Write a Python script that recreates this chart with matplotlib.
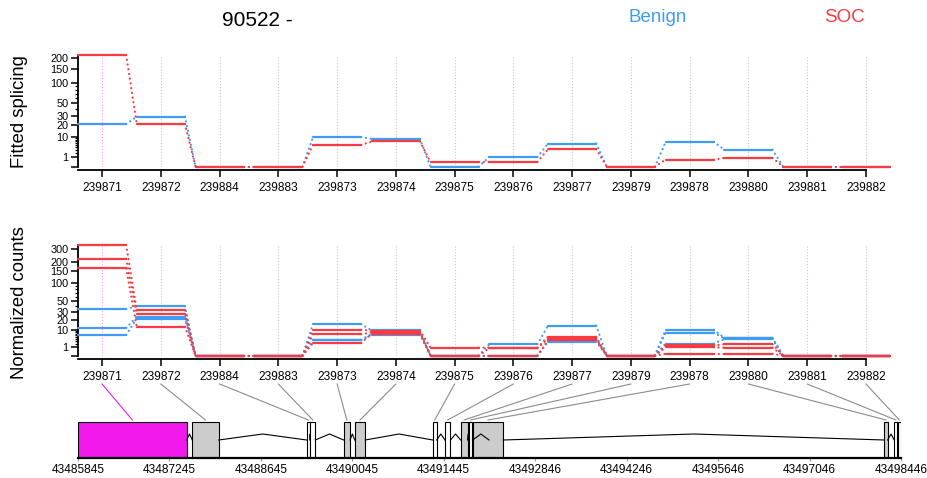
import numpy as np
import matplotlib
matplotlib.use("Agg")
import matplotlib.pyplot as plt
from matplotlib.patches import Rectangle

plt.rcParams['font.family'] = ['Liberation Sans', 'DejaVu Sans']

# ---------------- data ----------------
exon_ids = ["239871", "239872", "239884", "239883", "239873", "239874", "239875",
            "239876", "239877", "239879", "239878", "239880", "239881", "239882"]

fitted_benign = [20.8, 29.4, 0, 0, 9.6, 8.5, 0, 1.0, 5.8, 0, 6.7, 3.1, 0, 0]
fitted_soc = [218, 20.8, 0, 0, 5.1, 6.9, 0.24, 0.24, 3.3, 0, 0.53, 0.81, 0, 0]

counts_benign_1 = [35, 40, 0, 0, 15, 9.5, 0, 1.9, 13.5, 0, 9.9, 4.6, 0, 0]
counts_benign_2 = [11.4, 23.6, 0, 0, 3.7, 7.0, 0, 0, 3.0, 0, 7.8, 4.3, 0, 0]
counts_benign_3 = [6.3, 21.2, 0, 0, 3.4, 6.5, 0, 0, 2.8, 0, 2.1, 4.0, 0, 0]

counts_soc_1 = [335, 33, 0, 0, 10, 9.2, 0.92, 0.95, 5.2, 0, 1.5, 1.9, 0, 0]
counts_soc_2 = [221, 27, 0, 0, 6.7, 8.0, 0, 0.8, 4.2, 0, 1.0, 0.92, 0, 0]
counts_soc_3 = [164, 12.5, 0, 0, 2.3, 7.2, 0, 0, 3.6, 0, 0.05, 0.05, 0, 0]

fitted_ticks = [0, 1, 10, 20, 30, 50, 100, 150, 200]
fitted_tick_labels = ["", "1", "10", "20", "30", "50", "100", "150", "200"]
counts_ticks = [0, 1, 10, 20, 30, 50, 100, 150, 200, 300]
counts_tick_labels = ["", "1", "10", "20", "30", "50", "100", "150", "200", "300"]
minor_ticks = [2, 3, 4, 5, 6, 7, 8, 9, 40, 60, 70, 80, 90]

genomic_ticks = [43485845, 43487245, 43488645, 43490045, 43491445,
                 43492846, 43494246, 43495646, 43497046, 43498446]
exon_start = [43485845, 43487595, 43489347, 43489402, 43489913, 43490082, 43491276,
              43491464, 43491704, 43491827, 43491888, 43498190, 43498343, 43498396]
exon_end = [43487509, 43488000, 43489397, 43489478, 43490010, 43490244, 43491337,
            43491548, 43491809, 43491885, 43492357, 43498242, 43498392, 43498446]
exon_fill = ["pink", "gray", "white", "white", "gray", "gray", "white",
             "white", "gray", "white", "gray", "gray", "white", "white"]
extra_introns = [(43491888, 43492138)]

title = "90522 -"
groups = ["Benign", "SOC"]

BLUE = '#3E9BF6'
RED = '#F93A40'
PINK = '#F219ED'
FILL = {"pink": PINK, "gray": "#CCCCCC", "white": "white"}

# ---------------- scale ----------------
A = 0.012


def fwd(v):
    v = np.clip(np.asarray(v, dtype=float), 0, None)
    return np.arcsinh(np.sqrt(A * v))


def inv(y):
    y = np.asarray(y, dtype=float)
    return np.sinh(y) ** 2 / A


W, H = 928, 478
fig = plt.figure(figsize=(W / 100, H / 100), dpi=100)


def rect(l, t, r, b):
    return [l / W, 1 - b / H, (r - l) / W, (b - t) / H]


ax1 = fig.add_axes(rect(78, 55, 890, 166.7))
ax2 = fig.add_axes(rect(78, 245, 890, 355.7))
ax3 = fig.add_axes(rect(78, 380, 901, 458))

HALF = 0.41
xs = np.arange(1, len(exon_ids) + 1)


def draw_series(ax, vals, color):
    vals = np.asarray(vals, dtype=float)
    for i, v in zip(xs, vals):
        ax.plot([i - HALF, i + HALF], [v, v], color=color, lw=1.6,
                solid_capstyle='round', clip_on=False, zorder=3)
    for k in range(len(vals) - 1):
        ax.plot([xs[k] + HALF, xs[k + 1] - HALF], [vals[k], vals[k + 1]],
                color=color, lw=1.6, linestyle=(0, (0.05, 2.1)),
                dash_capstyle='round', clip_on=False, zorder=3)


def setup(ax, ymax, major, labels):
    ax.set_yscale('function', functions=(fwd, inv))
    ax.set_xlim(1 - HALF, len(xs) + HALF)
    ax.set_ylim(0, ymax)
    ax.set_yticks(major)
    ax.set_yticklabels(labels)
    ax.set_yticks([m for m in minor_ticks if m < ymax], minor=True)
    ax.set_xticks(xs)
    ax.set_xticklabels(exon_ids)
    ax.xaxis.set_minor_locator(matplotlib.ticker.NullLocator())
    for s in ['top', 'right']:
        ax.spines[s].set_visible(False)
    ax.spines['bottom'].set_position(('outward', 2.4))
    ax.spines['bottom'].set_bounds(1 - HALF, len(xs))
    ax.spines['left'].set_bounds(0, ymax)
    for s in ['bottom', 'left']:
        ax.spines[s].set_linewidth(1.3)
    ax.tick_params(axis='both', which='major', width=1.1, length=4.7, pad=2)
    ax.tick_params(axis='x', which='major', labelsize=8.6, pad=4)
    ax.tick_params(axis='y', which='major', labelsize=7.8)
    ax.tick_params(axis='y', which='minor', width=0.9, length=2.3)
    ax.set_facecolor('none')
    for i in xs:
        if i == 1:
            ax.axvline(i, color=PINK, alpha=0.45, ls=':', lw=0.8, zorder=0)
        else:
            ax.axvline(i, color='#C8C8C8', ls=':', lw=0.8, zorder=0)


setup(ax1, max(fitted_soc + fitted_benign), fitted_ticks, fitted_tick_labels)
setup(ax2, max(counts_soc_1), counts_ticks, counts_tick_labels)

draw_series(ax1, fitted_benign, BLUE)
draw_series(ax1, fitted_soc, RED)
for s in (counts_benign_1, counts_benign_2, counts_benign_3):
    draw_series(ax2, s, BLUE)
for s in (counts_soc_1, counts_soc_2, counts_soc_3):
    draw_series(ax2, s, RED)

# ---------------- gene model ----------------
ax3.set_xlim(genomic_ticks[0], genomic_ticks[-1])
ax3.set_ylim(78, 0)
for s in ['top', 'right', 'left']:
    ax3.spines[s].set_visible(False)
ax3.spines['bottom'].set_linewidth(1.6)
ax3.set_yticks([])
ax3.set_xticks(genomic_ticks)
ax3.set_xticklabels([str(t) for t in genomic_ticks])
ax3.tick_params(axis='x', labelsize=8.6, color='#999999', length=2.5, width=0.8, pad=2)
ax3.set_facecolor('none')

BASE, PEAK = 60, 54
order = np.argsort(exon_start)
introns = []
for a, b in zip(order[:-1], order[1:]):
    if exon_start[b] > exon_end[a]:
        introns.append((exon_end[a], exon_start[b]))
introns += extra_introns

for s, e, f in zip(exon_start, exon_end, exon_fill):
    ax3.add_patch(Rectangle((s, 42), e - s, 36, facecolor=FILL[f],
                            edgecolor='black', lw=0.8, zorder=2))
for s, e in introns:
    ax3.plot([s, (s + e) / 2, e], [BASE, PEAK, BASE], color='black', lw=0.8, zorder=3)

# connectors from exon labels to exon boxes
fig.canvas.draw()
for k, (s, e) in enumerate(zip(exon_start, exon_end)):
    xd = ax2.transData.transform((xs[k], 1))[0]
    xg = ax3.transData.inverted().transform((xd, 0))[0]
    col = PINK if exon_fill[k] == "pink" else '#8C8C8C'
    ax3.plot([xg, (s + e) / 2], [4, 40], color=col, lw=0.8, clip_on=False, zorder=1)

# ---------------- text ----------------
fig.text(20 / W, 1 - 111.5 / H, "Fitted splicing", rotation=90, ha='center', va='center', fontsize=13.3)
fig.text(20 / W, 1 - 303 / H, "Normalized counts", rotation=90, ha='center', va='center', fontsize=13.3)
fig.text(257 / W, 1 - 20 / H, title, ha='center', va='center', fontsize=15)
fig.text(658 / W, 1 - 18 / H, groups[0], ha='center', va='center', fontsize=13.5, color=BLUE)
fig.text(844 / W, 1 - 18 / H, groups[1], ha='center', va='center', fontsize=13.5, color=RED)

fig.savefig('out.png', dpi=100)
